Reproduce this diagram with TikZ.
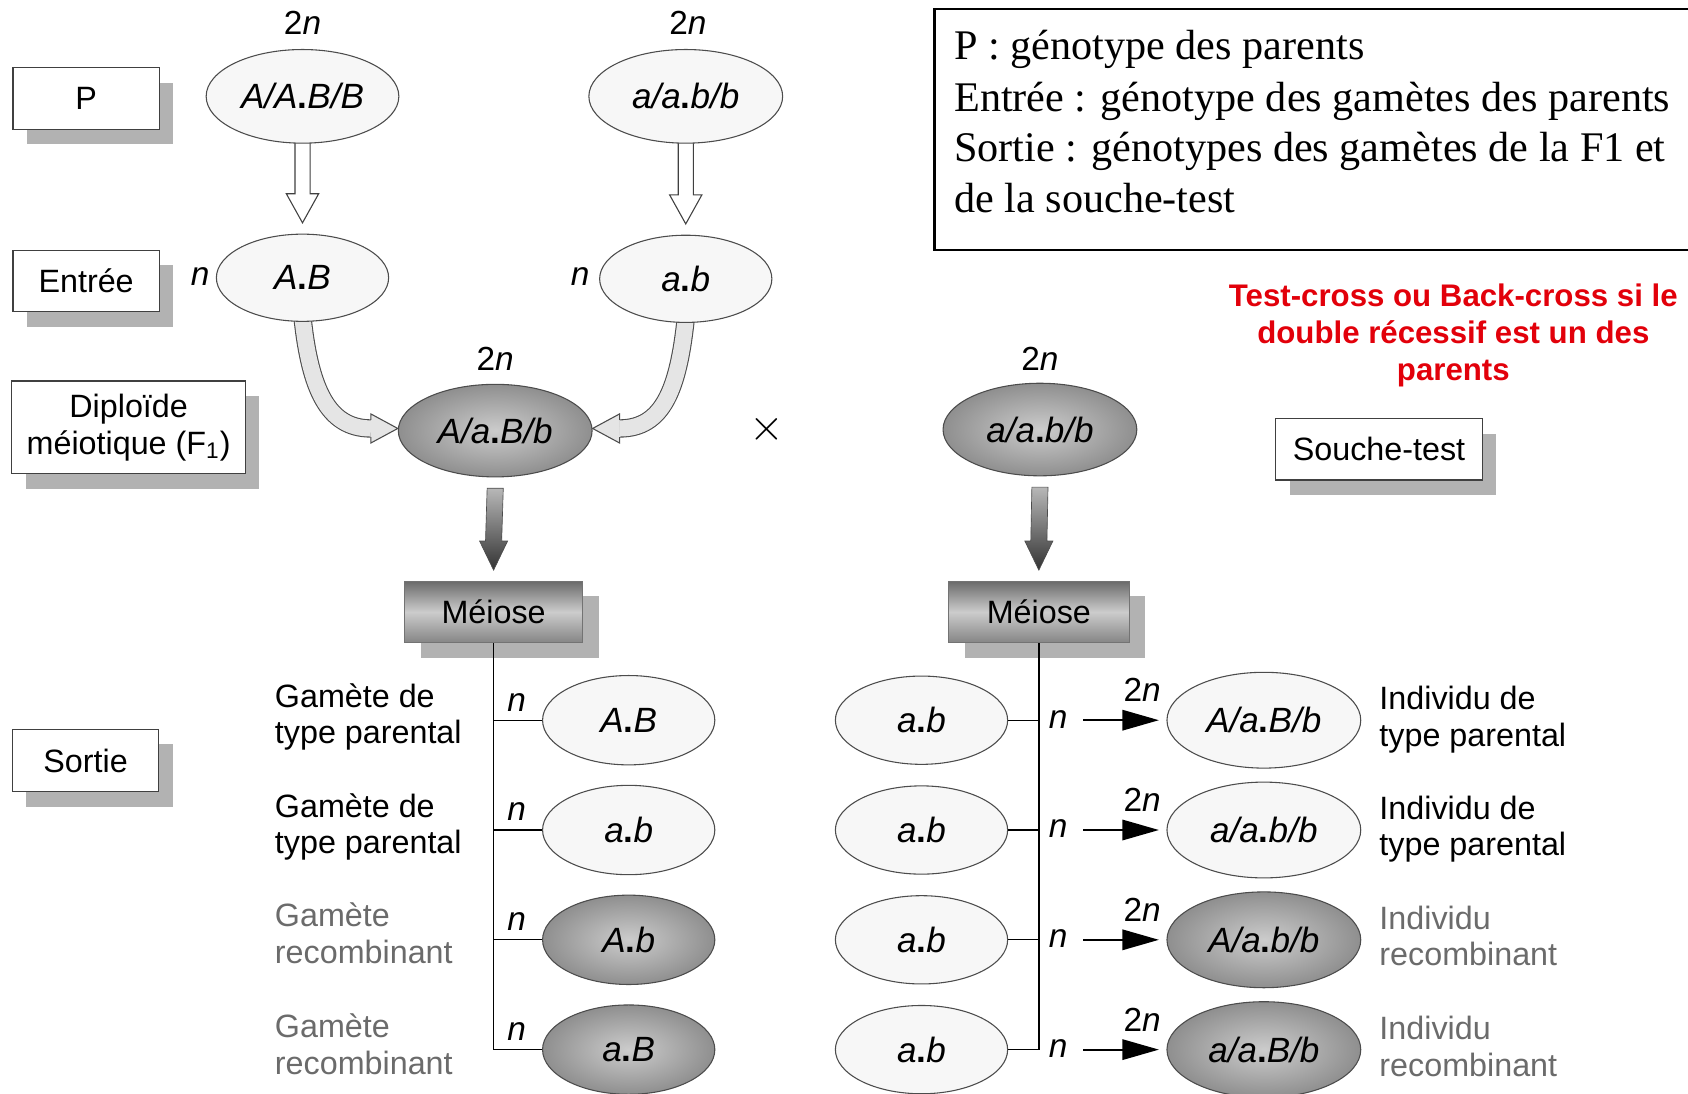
\documentclass[tikz,border=0pt]{standalone}
\usepackage{fontspec}
\setmainfont{Liberation Serif}
\newfontfamily\hv{Liberation Sans}
\usetikzlibrary{shapes.geometric,shadows,calc,arrows.meta}
\pgfdeclarelayer{bg}
\pgfsetlayers{bg,main}
\definecolor{redtxt}{RGB}{226,0,10}
\definecolor{graytxt}{gray}{0.42}
\newcommand\gdot{\textup{\bfseries .}}
\begin{document}
\begin{tikzpicture}[x=0.5pt,y=-0.5pt,
  sf/.style={font=\hv\fontsize{15}{16.5}\selectfont},
  gf/.style={font=\hv\itshape\fontsize{16.3}{18}\selectfont},
  lbox/.style={rectangle, draw=black!75, line width=0.6pt, fill=white, inner sep=0pt, align=center, sf,
     general shadow={fill=black!30, shadow xshift=6.5pt, shadow yshift=-7pt}},
  lell/.style={ellipse, draw=black!70, line width=0.5pt, fill=black!3, inner sep=0pt, gf},
  dell/.style={ellipse, draw=black!70, line width=0.5pt, inner color=black!20, outer color=black!44, inner sep=0pt, gf},
  meiose/.style={rectangle, draw=black!55, line width=0.4pt, top color=black!58, bottom color=black!48, middle color=black!20,
     inner sep=0pt, sf, minimum height=28.5pt, general shadow={fill=black!30, shadow xshift=7.5pt, shadow yshift=-7pt}},
  nlab/.style={font=\hv\itshape\fontsize{15.5}{16}\selectfont, inner sep=0pt},
  twon/.style={font=\hv\fontsize{15.5}{16}\selectfont, inner sep=0pt},
  gam/.style={sf, anchor=base west, inner sep=0pt},
  gamg/.style={gam, text=graytxt},
  leg/.style={font=\fontsize{19.6}{23.5}\selectfont, anchor=base west, inner sep=0pt},
  redt/.style={font=\hv\bfseries\fontsize{14.5}{17}\selectfont, text=redtxt, anchor=base, inner sep=0pt},
  tree/.style={draw=black, line width=0.6pt},
  hollow/.style={draw=black!75, line width=0.5pt, fill=white, line join=miter},
  curve/.style={draw=black!70, line width=0.5pt, double=black!10, double distance=7.5pt},
  curvehead/.style={draw=black!70, line width=0.5pt, fill=black!10, line join=miter},
  darkarr/.style={draw=black!70, line width=0.3pt, top color=black!28, bottom color=black!80},
  smallarr/.style={draw=black, line width=0.9pt, -{Triangle[length=17pt,width=9.5pt]}},
]
\useasboundingbox (0,0) rectangle (1568,1016);

% ---- legend ----
\draw[line width=1pt] (1575,8) -- (868,8) -- (868,232) -- (1575,232);
\node[leg] (leg1) at (886,55) {P : génotype des parents};
\node[leg] (leg2) at (886,104) {Entrée : génotype des gamètes des parents};
\node[leg] (leg3) at (886,150) {Sortie : génotypes des gamètes de la F1 et};
\node[leg] (leg4) at (886,197) {de la souche-test};

\node[redt] (red1) at (1350,285) {Test-cross ou Back-cross si le};
\node[redt] (red2) at (1350,319) {double récessif est un des};
\node[redt] (red3) at (1350,353) {parents};

% ---- label boxes ----
\node[lbox, minimum width=68pt, minimum height=28.5pt] (bP) at (80,91.5) {P};
\node[lbox, minimum width=68pt, minimum height=28.5pt] (bE) at (80,261) {Entrée};
\node[lbox, minimum width=108.5pt, minimum height=43pt] (bD) at (119.5,397) {Diploïde\\[0.5pt]méiotique (F\textsubscript{1})};
\node[lbox, minimum width=68pt, minimum height=29pt] (bS) at (79.5,706.5) {Sortie};
\node[lbox, minimum width=96pt, minimum height=28.5pt] (bT) at (1281,417.5) {Souche-test};

% ---- parents ----
\node[lell, minimum width=89.5pt, minimum height=43.5pt] (P1) at (281,89.5) {A/A\gdot B/B};
\node[lell, minimum width=90pt, minimum height=43.5pt] (P2) at (637,89.5) {a/a\gdot b/b};
\node[twon] (tn1) at (281,21) {2\textit{n}};
\node[twon] (tn2) at (639,21) {2\textit{n}};

\node[lell, minimum width=80pt, minimum height=40.5pt] (AB) at (281,258) {A\gdot B};
\node[lell, minimum width=80pt, minimum height=40.5pt] (ab) at (637,259) {a\gdot b};
\node[nlab] (nAB) at (186,257) {n};
\node[nlab] (nab) at (539,257) {n};

\node[dell, minimum width=90pt, minimum height=43pt] (F1) at (460,400) {A/a\gdot B/b};
\node[dell, minimum width=90pt, minimum height=43pt] (TS) at (966,399) {a/a\gdot b/b};
\node[twon] (tn3) at (460,333) {2\textit{n}};
\node[twon] (tn4) at (966,333) {2\textit{n}};
\node[font=\fontsize{22}{22}\selectfont, inner sep=0pt] (cross) at (712,399) {$\times$};

% ---- meiose ----
\node[meiose, minimum width=82.5pt] (ML) at (458.5,568.5) {Méiose};
\node[meiose, minimum width=84pt] (MR) at (965,568.5) {Méiose};

% ---- gametes F1 ----
\node[lell, minimum width=80pt, minimum height=41.5pt] (G1) at (584,669) {A\gdot B};
\node[lell, minimum width=80pt, minimum height=41.5pt] (G2) at (584,771) {a\gdot b};
\node[dell, minimum width=80pt, minimum height=41.5pt] (G3) at (584,873) {A\gdot b};
\node[dell, minimum width=80pt, minimum height=41.5pt] (G4) at (584,975) {a\gdot B};
\node[nlab] (ng1) at (480,653) {n};
\node[nlab] (ng2) at (480,754) {n};
\node[nlab] (ng3) at (480,856) {n};
\node[nlab] (ng4) at (480,958) {n};

\node[gam] (lg1a) at (255,657) {Gamète de};
\node[gam] (lg1b) at (255,691) {type parental};
\node[gam] (lg2a) at (255,759) {Gamète de};
\node[gam] (lg2b) at (255,793) {type parental};
\node[gamg] (lg3a) at (255,861) {Gamète};
\node[gamg] (lg3b) at (255,895) {recombinant};
\node[gamg] (lg4a) at (255,964) {Gamète};
\node[gamg] (lg4b) at (255,998) {recombinant};

% ---- gametes souche-test and offspring ----
\node[lell, minimum width=80pt, minimum height=41pt] (L1) at (856,669) {a\gdot b};
\node[lell, minimum width=80pt, minimum height=41pt] (L2) at (856,771) {a\gdot b};
\node[lell, minimum width=80pt, minimum height=41pt] (L3) at (856,873) {a\gdot b};
\node[lell, minimum width=80pt, minimum height=41pt] (L4) at (856,975) {a\gdot b};
\node[nlab] (nl1) at (983,668) {n};
\node[nlab] (nl2) at (983,770) {n};
\node[nlab] (nl3) at (983,872) {n};
\node[nlab] (nl4) at (983,974) {n};

\node[lell, minimum width=90pt, minimum height=44.5pt] (O1) at (1174,669) {A/a\gdot B/b};
\node[lell, minimum width=90pt, minimum height=44.5pt] (O2) at (1174,771) {a/a\gdot b/b};
\node[dell, minimum width=90pt, minimum height=44.5pt] (O3) at (1174,873) {A/a\gdot b/b};
\node[dell, minimum width=90pt, minimum height=44.5pt] (O4) at (1174,975) {a/a\gdot B/b};
\node[twon] (to1) at (1061,641) {2\textit{n}};
\node[twon] (to2) at (1061,743) {2\textit{n}};
\node[twon] (to3) at (1061,845) {2\textit{n}};
\node[twon] (to4) at (1061,947) {2\textit{n}};

\node[gam] (lo1a) at (1281,659) {Individu de};
\node[gam] (lo1b) at (1281,693) {type parental};
\node[gam] (lo2a) at (1281,761) {Individu de};
\node[gam] (lo2b) at (1281,795) {type parental};
\node[gamg] (lo3a) at (1281,863) {Individu};
\node[gamg] (lo3b) at (1281,897) {recombinant};
\node[gamg] (lo4a) at (1281,966) {Individu};
\node[gamg] (lo4b) at (1281,1000) {recombinant};

% ---- trees ----
\draw[tree] (ML.south) -- (ML.south |- G4.west) -- (G4.west);
\foreach \g in {G1,G2,G3} \draw[tree] (ML.south |- \g.west) -- (\g.west);
\draw[tree] (MR.south) -- (MR.south |- L4.east) -- (L4.east);
\foreach \g in {L1,L2,L3} \draw[tree] (\g.east) -- (MR.south |- \g.east);

% ---- small arrows ----
\foreach \i/\y in {1/669,2/771,3/873,4/975} {
  \coordinate (s\i) at (1006,\y);
  \draw[smallarr, shorten >=3.5pt] (s\i) -- (O\i.west);
}

% ---- background arrows ----
\begin{pgfonlayer}{bg}
  % hollow arrows
  \coordinate (t1) at ($(AB.north)+(0,-10)$);
  \coordinate (t2) at ($(ab.north)+(0,-10)$);
  \foreach \s/\t in {P1/t1,P2/t2}
    \draw[hollow] ($(\s.south)+(-7,-4)$) -- ($(\t)+(-7,-27)$) -- ($(\t)+(-15,-27)$) -- (\t)
       -- ($(\t)+(15,-27)$) -- ($(\t)+(7,-27)$) -- ($(\s.south)+(7,-4)$);
  % curved arrows into F1
  \draw[curve] ($(AB.south)+(0,-4)$) .. controls ($(AB.south)+(7,62)$) and ($(F1.west)+(-65,-2)$) .. ($(F1.west)+(-25,-2)$);
  \filldraw[curvehead] ($(F1.west)+(-25,-10)$) -- ($(F1.west)+(-25,-15.5)$) -- ($(F1.west)+(0,-2)$)
       -- ($(F1.west)+(-25,11.5)$) -- ($(F1.west)+(-25,6)$);
  \draw[curve] ($(ab.south)+(0,-4)$) .. controls ($(ab.south)+(-7,62)$) and ($(F1.east)+(65,-2)$) .. ($(F1.east)+(25,-2)$);
  \filldraw[curvehead] ($(F1.east)+(25,-10)$) -- ($(F1.east)+(25,-15.5)$) -- ($(F1.east)+(0,-2)$)
       -- ($(F1.east)+(25,11.5)$) -- ($(F1.east)+(25,6)$);
  % dark arrows to meiose
  \coordinate (d1) at ($(ML.north)+(0,-10)$);
  \coordinate (d2) at ($(MR.north)+(0,-10)$);
  \foreach \s/\t in {F1/d1,TS/d2}
    \shadedraw[darkarr] ($(\s.south)+(-7.5,10)$) -- ($(\t)+(-7.5,-27)$) -- ($(\t)+(-13,-27)$) -- (\t)
       -- ($(\t)+(13,-27)$) -- ($(\t)+(7.5,-27)$) -- ($(\s.south)+(7.5,10)$) -- cycle;
\end{pgfonlayer}
\end{tikzpicture}
\end{document}
